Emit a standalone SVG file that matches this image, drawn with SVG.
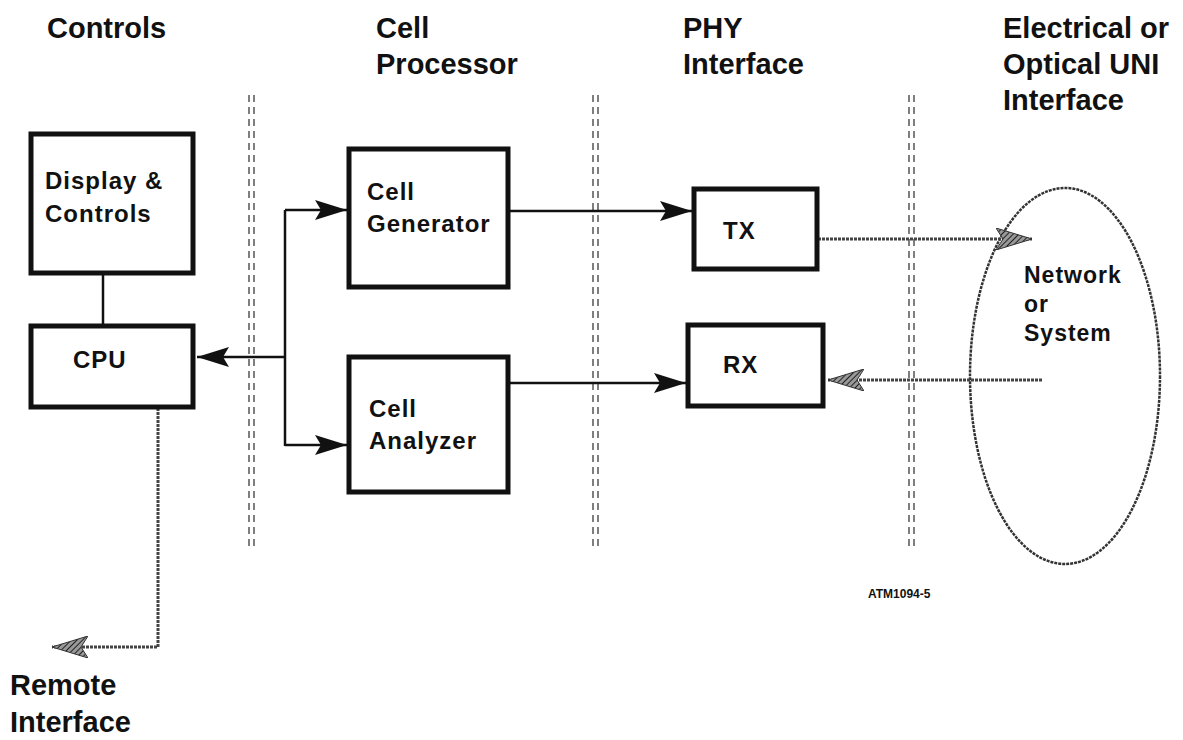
<svg xmlns="http://www.w3.org/2000/svg" width="1183" height="740" viewBox="0 0 1183 740">
<style>
.t{font-family:"Liberation Sans",Arial,sans-serif;font-weight:bold;fill:#111}
.title{font-size:29px}
.lbl{font-size:24px;letter-spacing:1px}
.box{fill:#fff;stroke:#111;stroke-width:5}
.ln{fill:none;stroke:#111;stroke-width:2.5}
.gl{fill:none;stroke:#444;stroke-width:3;stroke-dasharray:3 1}
.sep{stroke:#555;stroke-width:1.5;stroke-dasharray:7 5}
</style>
<defs>
<marker id="ah" markerWidth="32" markerHeight="20" refX="32" refY="10" orient="auto" markerUnits="userSpaceOnUse">
<path d="M0,0 L32,10 L0,20 L6,10 Z" fill="#111"/>
</marker>
<pattern id="hatch" width="4" height="4" patternUnits="userSpaceOnUse" patternTransform="rotate(45)">
<rect width="4" height="4" fill="#999"/>
<line x1="0" y1="0" x2="0" y2="4" stroke="#222" stroke-width="2"/>
</pattern>
<marker id="gh" markerWidth="36" markerHeight="22" refX="36" refY="11" orient="auto" markerUnits="userSpaceOnUse">
<path d="M0,0 L36,11 L0,22 L7,11 Z" fill="url(#hatch)" stroke="#333" stroke-width="1"/>
</marker>
</defs>

<g id="titles">
<text class="t title" x="47" y="38">Controls</text>
<text class="t title" x="376" y="38">Cell</text>
<text class="t title" x="376" y="74">Processor</text>
<text class="t title" x="683" y="38">PHY</text>
<text class="t title" x="683" y="74">Interface</text>
<text class="t title" x="1003" y="38">Electrical or</text>
<text class="t title" x="1003" y="74">Optical UNI</text>
<text class="t title" x="1003" y="110">Interface</text>
<text class="t title" x="10" y="695">Remote</text>
<text class="t title" x="10" y="732">Interface</text>
<text class="t" style="font-size:12px" x="868" y="598">ATM1094-5</text>
</g>

<g id="separators">
<line class="sep" x1="249" y1="95" x2="249" y2="550"/>
<line class="sep" x1="254" y1="95" x2="254" y2="550"/>
<line class="sep" x1="593" y1="95" x2="593" y2="550"/>
<line class="sep" x1="598" y1="95" x2="598" y2="550"/>
<line class="sep" x1="909" y1="95" x2="909" y2="550"/>
<line class="sep" x1="914" y1="95" x2="914" y2="550"/>
</g>

<g id="network">
<ellipse cx="1065" cy="376" rx="95" ry="188" fill="none" stroke="#333" stroke-width="2.5" stroke-dasharray="3 1"/>
<text class="t lbl" style="font-size:23px" x="1024" y="283">Network</text>
<text class="t lbl" style="font-size:23px" x="1024" y="312">or</text>
<text class="t lbl" style="font-size:23px" x="1024" y="341">System</text>
</g>

<g id="connectors">
<line class="ln" x1="103" y1="273" x2="103" y2="325"/>
<line class="ln" x1="285" y1="357" x2="197" y2="357" marker-end="url(#ah)"/>
<line class="ln" x1="285" y1="210" x2="285" y2="446"/>
<line class="ln" x1="285" y1="210" x2="347" y2="210" marker-end="url(#ah)"/>
<line class="ln" x1="285" y1="445" x2="347" y2="445" marker-end="url(#ah)"/>
<line class="ln" x1="508" y1="211" x2="692" y2="211" marker-end="url(#ah)"/>
<line class="ln" x1="508" y1="383" x2="686" y2="383" marker-end="url(#ah)"/>
<line class="gl" x1="818" y1="239" x2="1032" y2="239" marker-end="url(#gh)"/>
<line class="gl" x1="1042" y1="380" x2="828" y2="380" marker-end="url(#gh)"/>
<polyline class="gl" points="158,408 158,647 52,647" marker-end="url(#gh)"/>
</g>

<g id="display">
<rect class="box" x="31" y="134" width="162" height="139"/>
<text class="t lbl" x="45" y="189">Display &amp;</text>
<text class="t lbl" x="45" y="222">Controls</text>
</g>
<g id="cpu">
<rect class="box" x="31" y="326" width="162" height="81"/>
<text class="t lbl" x="73" y="368">CPU</text>
</g>
<g id="cellgen">
<rect class="box" x="349" y="149" width="159" height="138"/>
<text class="t lbl" x="367" y="200">Cell</text>
<text class="t lbl" x="367" y="232">Generator</text>
</g>
<g id="cellana">
<rect class="box" x="349" y="357" width="159" height="135"/>
<text class="t lbl" x="369" y="417">Cell</text>
<text class="t lbl" x="369" y="449">Analyzer</text>
</g>
<g id="tx">
<rect class="box" x="694" y="189" width="123" height="80"/>
<text class="t lbl" x="723" y="239">TX</text>
</g>
<g id="rx">
<rect class="box" x="688" y="325" width="135" height="81"/>
<text class="t lbl" x="723" y="373">RX</text>
</g>
</svg>
